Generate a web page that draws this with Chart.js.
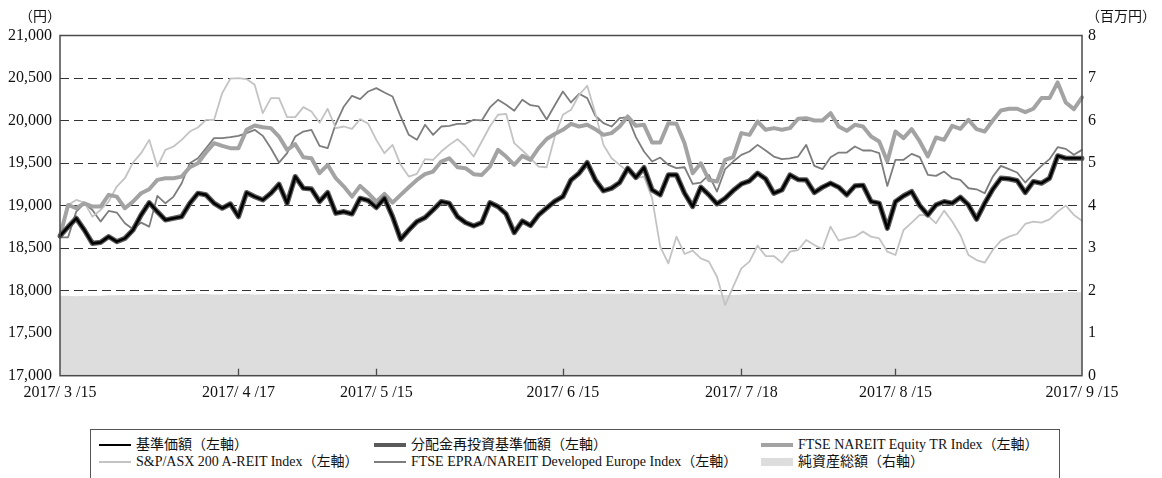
<!DOCTYPE html>
<html>
<head>
<meta charset="utf-8">
<script src="https://cdn.jsdelivr.net/npm/chart.js@4.4.1/dist/chart.umd.min.js"></script>
<style>
  html, body { margin: 0; padding: 0; background: #fff; }
  body { width: 1162px; height: 478px; position: relative; overflow: hidden;
         font-family: "Liberation Serif", "Noto Sans CJK JP", serif; color: #111; }
  #wrap { position: absolute; left: 0; top: 0; width: 1162px; height: 420px; }
  .unit { position: absolute; font-size: 14px; top: 5px; white-space: nowrap; }
  #legend { position: absolute; left: 90px; top: 429px; width: 970px; height: 70px;
            border: 1px solid #555; box-sizing: border-box; }
  .li { position: absolute; font-size: 14px; white-space: nowrap; line-height: 16px; }
  .sw { position: absolute; }
</style>
</head>
<body>
<div id="wrap"><canvas id="c" width="1162" height="420"></canvas></div>
<div class="unit" style="left:19px;">（円）</div>
<div class="unit" style="left:1086px;">（百万円）</div>
<div id="legend"></div>
<script>
// ---- data ----
const dates = [
 '2017-03-15','2017-03-16','2017-03-17','2017-03-21','2017-03-22','2017-03-23','2017-03-24','2017-03-27','2017-03-28','2017-03-29','2017-03-30','2017-03-31',
 '2017-04-03','2017-04-04','2017-04-05','2017-04-06','2017-04-07','2017-04-10','2017-04-11','2017-04-12','2017-04-13','2017-04-14',
 '2017-04-17','2017-04-18','2017-04-19','2017-04-20','2017-04-21','2017-04-24','2017-04-25','2017-04-26','2017-04-27','2017-04-28',
 '2017-05-01','2017-05-02','2017-05-08','2017-05-09','2017-05-10','2017-05-11','2017-05-12','2017-05-15','2017-05-16','2017-05-17','2017-05-18','2017-05-19',
 '2017-05-22','2017-05-23','2017-05-24','2017-05-25','2017-05-26','2017-05-29','2017-05-30','2017-05-31',
 '2017-06-01','2017-06-02','2017-06-05','2017-06-06','2017-06-07','2017-06-08','2017-06-09','2017-06-12','2017-06-13','2017-06-14','2017-06-15','2017-06-16',
 '2017-06-19','2017-06-20','2017-06-21','2017-06-22','2017-06-23','2017-06-26','2017-06-27','2017-06-28','2017-06-29','2017-06-30',
 '2017-07-03','2017-07-04','2017-07-05','2017-07-06','2017-07-07','2017-07-10','2017-07-11','2017-07-12','2017-07-13','2017-07-14',
 '2017-07-18','2017-07-19','2017-07-20','2017-07-21','2017-07-24','2017-07-25','2017-07-26','2017-07-27','2017-07-28','2017-07-31',
 '2017-08-01','2017-08-02','2017-08-03','2017-08-04','2017-08-07','2017-08-08','2017-08-09','2017-08-10','2017-08-14','2017-08-15','2017-08-16','2017-08-17','2017-08-18',
 '2017-08-21','2017-08-22','2017-08-23','2017-08-24','2017-08-25','2017-08-28','2017-08-29','2017-08-30','2017-08-31',
 '2017-09-01','2017-09-04','2017-09-05','2017-09-06','2017-09-07','2017-09-08','2017-09-11','2017-09-12','2017-09-13','2017-09-14','2017-09-15'
];

const xTickDates  = ['2017-03-15','2017-04-17','2017-05-15','2017-06-15','2017-07-18','2017-08-15','2017-09-15'];
const xTickLabels = ['2017/ 3 /15','2017/ 4 /17','2017/ 5 /15','2017/ 6 /15','2017/ 7 /18','2017/ 8 /15','2017/ 9 /15'];

const leftTicks = [17000, 17500, 18000, 18500, 19000, 19500, 20000, 20500, 21000];
const rightTicks = [0, 1, 2, 3, 4, 5, 6, 7, 8];

const nav = [
 18643,18750,18851,18713,18556,18568,18635,18576,18615,18713,
 18890,19035,18929,18831,18851,18870,19027,19145,19126,19027,
 18969,19020,18870,19153,19106,19067,19145,19251,19027,19341,
 19204,19196,19047,19153,18910,18929,18902,19086,19059,18976,
 19086,18870,18604,18713,18812,18859,18949,19047,19027,18870,
 18800,18761,18800,19035,18988,18902,18682,18819,18765,18890,
 18972,19050,19106,19302,19381,19506,19302,19173,19204,19271,
 19440,19330,19447,19184,19126,19361,19361,19145,18988,19216,
 19126,19020,19086,19177,19255,19290,19381,19314,19145,19184,
 19361,19306,19302,19153,19216,19263,19216,19126,19232,19239,
 19047,19027,18733,19047,19114,19165,19000,18890,19008,19047,
 19027,19098,19008,18839,19027,19192,19322,19314,19294,19153,
 19283,19263,19322,19585,19557,19557,19557
];

const navReinvested = [
 18643,18750,18851,18713,18556,18568,18635,18576,18615,18713,
 18890,19035,18929,18831,18851,18870,19027,19145,19126,19027,
 18969,19020,18870,19153,19106,19067,19145,19251,19027,19341,
 19204,19196,19047,19153,18910,18929,18902,19086,19059,18976,
 19086,18870,18604,18713,18812,18859,18949,19047,19027,18870,
 18800,18761,18800,19035,18988,18902,18682,18819,18765,18890,
 18972,19050,19106,19302,19381,19506,19302,19173,19204,19271,
 19440,19330,19447,19184,19126,19361,19361,19145,18988,19216,
 19126,19020,19086,19177,19255,19290,19381,19314,19145,19184,
 19361,19306,19302,19153,19216,19263,19216,19126,19232,19239,
 19047,19027,18733,19047,19114,19165,19000,18890,19008,19047,
 19027,19098,19008,18839,19027,19192,19322,19314,19294,19153,
 19283,19263,19322,19585,19557,19557,19557
];

const ftseNareit = [
 18643,19008,18969,19027,18988,18988,19126,19106,18969,19047,
 19145,19192,19302,19322,19322,19341,19451,19498,19624,19734,
 19703,19675,19675,19891,19942,19922,19911,19812,19655,19722,
 19569,19557,19381,19479,19322,19224,19106,19232,19145,19047,
 19137,19035,19126,19216,19302,19369,19400,19518,19557,19451,
 19440,19369,19361,19459,19655,19577,19479,19585,19538,19675,
 19783,19842,19891,19962,19930,19950,19899,19832,19852,19930,
 20048,19938,19950,19742,19742,19969,19962,19734,19381,19498,
 19302,19283,19538,19569,19852,19832,19989,19891,19911,19891,
 19911,20022,20028,20001,20001,20087,19930,19879,19950,19930,
 19812,19754,19518,19871,19793,19899,19754,19577,19801,19773,
 19938,19903,20009,19899,19871,20001,20119,20139,20139,20099,
 20139,20264,20264,20448,20213,20134,20272
];

const asxReit = [
 18635,19008,19067,19035,18870,18949,19047,19224,19322,19506,
 19616,19773,19459,19655,19695,19773,19871,19918,20009,20009,
 20323,20492,20500,20488,20421,20087,20264,20264,20040,20040,
 20158,20107,19973,20138,19911,19930,19903,20017,19962,19773,
 19616,19714,19479,19341,19373,19546,19538,19636,19714,19781,
 19695,19577,19754,19930,20068,20079,19734,19648,19557,19459,
 19451,19812,20068,20126,20303,20409,20087,19714,19557,19479,
 19400,19322,19341,19086,18517,18321,18635,18431,18470,18380,
 18341,18164,17830,18046,18262,18341,18529,18407,18407,18329,
 18458,18478,18596,18537,18490,18753,18588,18615,18635,18694,
 18635,18615,18458,18419,18713,18800,18890,18882,18792,18941,
 18812,18655,18419,18360,18329,18478,18588,18635,18666,18784,
 18812,18800,18839,18929,19000,18890,18823
];

const epraEurope = [
 18627,18627,18929,19027,18949,18812,18937,18918,18792,18721,
 18800,18753,19114,19027,19106,19263,19498,19557,19675,19793,
 19793,19805,19820,19852,19891,19820,19675,19506,19616,19812,
 19871,19891,19703,19675,19962,20166,20291,20252,20342,20381,
 20330,20283,20048,19832,19773,19950,19832,19930,19938,19962,
 19962,20009,20001,20154,20244,20185,20115,20244,20181,20166,
 20013,20180,20342,20213,20315,20264,20056,19969,19930,20028,
 20040,19805,19636,19518,19565,19479,19440,19451,19255,19271,
 19361,19165,19428,19518,19597,19636,19714,19648,19577,19546,
 19555,19577,19714,19467,19428,19569,19624,19624,19695,19648,
 19648,19616,19231,19538,19538,19608,19569,19361,19349,19400,
 19322,19302,19204,19192,19145,19341,19467,19428,19389,19271,
 19373,19467,19546,19687,19667,19597,19655
];

const netAssets = [
 1.88,1.88,1.87,1.88,1.88,1.88,1.89,1.89,1.89,1.90,
 1.90,1.91,1.91,1.90,1.90,1.91,1.91,1.92,1.92,1.91,
 1.91,1.92,1.92,1.92,1.91,1.91,1.92,1.92,1.92,1.93,
 1.93,1.92,1.92,1.92,1.93,1.93,1.92,1.91,1.91,1.90,
 1.90,1.89,1.88,1.89,1.89,1.90,1.90,1.91,1.91,1.90,
 1.90,1.90,1.90,1.91,1.91,1.90,1.90,1.90,1.90,1.91,
 1.91,1.92,1.92,1.93,1.93,1.94,1.93,1.93,1.93,1.93,
 1.94,1.93,1.93,1.92,1.92,1.93,1.93,1.92,1.91,1.91,
 1.91,1.91,1.90,1.90,1.91,1.92,1.92,1.93,1.92,1.92,
 1.92,1.92,1.93,1.93,1.92,1.92,1.92,1.92,1.92,1.92,
 1.92,1.91,1.90,1.91,1.91,1.92,1.91,1.91,1.91,1.91,
 1.92,1.92,1.92,1.91,1.92,1.93,1.93,1.94,1.94,1.94,
 1.94,1.94,1.95,1.95,1.96,1.96,1.96
];

const seriesNames = [
 '基準価額（左軸）',
 '分配金再投資基準価額（左軸）',
 'FTSE NAREIT Equity TR Index（左軸）',
 'S&P/ASX 200 A-REIT Index（左軸）',
 'FTSE EPRA/NAREIT Developed Europe Index（左軸）',
 '純資産総額（右軸）'
];

// ---- styles ----
const C_NAV = '#000000', C_REINV = '#5a5a5a', C_NAREIT = '#a3a3a3', C_ASX = '#c3c3c3', C_EUR = '#7d7d7d', C_NET = '#dcdddc';
const FONT = '"Liberation Serif", "Noto Sans CJK JP", serif';

function lineDs(label, data, color, width) {
  return { type: 'line', label, data, borderColor: color, backgroundColor: color, borderWidth: width,
           pointRadius: 0, pointHoverRadius: 0, tension: 0, fill: false, yAxisID: 'y',
           borderJoinStyle: 'round', borderCapStyle: 'round' };
}

const framePlugin = {
  id: 'frame',
  afterDatasetsDraw(chart) {
    const { ctx, chartArea: a, scales } = chart;
    ctx.save();
    ctx.strokeStyle = '#4a4a4a';
    ctx.lineWidth = 1.5;
    ctx.strokeRect(a.left, a.top, a.right - a.left, a.bottom - a.top);
    ctx.lineWidth = 1.3;
    xTickDates.forEach((d, k) => {
      if (k === 0 || k === xTickDates.length - 1) return;
      const x = Math.round(scales.x.getPixelForValue(dates.indexOf(d))) + 0.5;
      ctx.beginPath();
      ctx.moveTo(x, a.bottom);
      ctx.lineTo(x, a.bottom - 7);
      ctx.stroke();
    });
    ctx.restore();
  }
};

new Chart(document.getElementById('c'), {
  data: {
    labels: dates,
    datasets: [
      lineDs(seriesNames[0], nav, C_NAV, 2.6),
      lineDs(seriesNames[1], navReinvested, C_REINV, 5.2),
      lineDs(seriesNames[2], ftseNareit, C_NAREIT, 4),
      lineDs(seriesNames[3], asxReit, C_ASX, 1.8),
      lineDs(seriesNames[4], epraEurope, C_EUR, 1.8),
      { type: 'line', label: seriesNames[5], data: netAssets, yAxisID: 'y2', borderWidth: 0,
        borderColor: C_NET, backgroundColor: C_NET, fill: 'origin', pointRadius: 0, tension: 0 }
    ]
  },
  options: {
    responsive: false,
    animation: false,
    devicePixelRatio: 1,
    layout: { padding: { top: 35.5, left: 0, right: 0, bottom: 0 } },
    plugins: { legend: { display: false }, tooltip: { enabled: false } },
    scales: {
      x: {
        type: 'category',
        offset: false,
        grid: { display: false, drawTicks: false },
        border: { display: false },
        ticks: {
          autoSkip: false, maxRotation: 0, minRotation: 0, padding: 7,
          color: '#111', font: { family: FONT, size: 16 },
          callback: function (v, i) {
            const k = xTickDates.indexOf(dates[i]);
            return k >= 0 ? xTickLabels[k] : '';
          }
        },
        afterFit(s) { s.height = 44.3; }
      },
      y: {
        position: 'left',
        min: 17000, max: 21000,
        afterBuildTicks(s) { s.ticks = leftTicks.map(v => ({ value: v })); },
        grid: {
          drawTicks: false, lineWidth: 1,
          color: c => (c.tick && (c.tick.value === 17000 || c.tick.value === 21000)) ? 'rgba(0,0,0,0)' : '#333'
        },
        border: { display: false, dash: [9, 5] },
        ticks: {
          padding: 8, color: '#111', font: { family: FONT, size: 16 },
          callback: v => v.toLocaleString('en-US')
        },
        afterFit(s) { s.width = 60; }
      },
      y2: {
        position: 'right',
        min: 0, max: 8,
        afterBuildTicks(s) { s.ticks = rightTicks.map(v => ({ value: v })); },
        grid: { display: false, drawTicks: false },
        border: { display: false },
        ticks: { padding: 6, color: '#111', font: { family: FONT, size: 16 } },
        afterFit(s) { s.width = 80; }
      }
    }
  },
  plugins: [framePlugin]
});

// ---- legend (HTML) ----
const legendItems = [
  { name: seriesNames[0], color: C_NAV,    kind: 'line', h: 2.5, x: 8,   y: 7 },
  { name: seriesNames[1], color: C_REINV,  kind: 'line', h: 4.5, x: 283, y: 7 },
  { name: seriesNames[2], color: C_NAREIT, kind: 'line', h: 4,   x: 670, y: 7 },
  { name: seriesNames[3], color: C_ASX,    kind: 'line', h: 2,   x: 8,   y: 24 },
  { name: seriesNames[4], color: C_EUR,    kind: 'line', h: 2,   x: 283, y: 24 },
  { name: seriesNames[5], color: C_NET,    kind: 'box',  h: 8,   x: 670, y: 24 }
];
const lg = document.getElementById('legend');
legendItems.forEach(it => {
  const sw = document.createElement('div');
  sw.className = 'sw';
  sw.style.left = it.x + 'px';
  sw.style.width = '32px';
  sw.style.height = it.h + 'px';
  sw.style.top = (it.y + 8 - it.h / 2) + 'px';
  sw.style.background = it.color;
  lg.appendChild(sw);
  const t = document.createElement('div');
  t.className = 'li';
  t.style.left = (it.x + 37) + 'px';
  t.style.top = it.y + 'px';
  t.textContent = it.name;
  lg.appendChild(t);
});
</script>
</body>
</html>
